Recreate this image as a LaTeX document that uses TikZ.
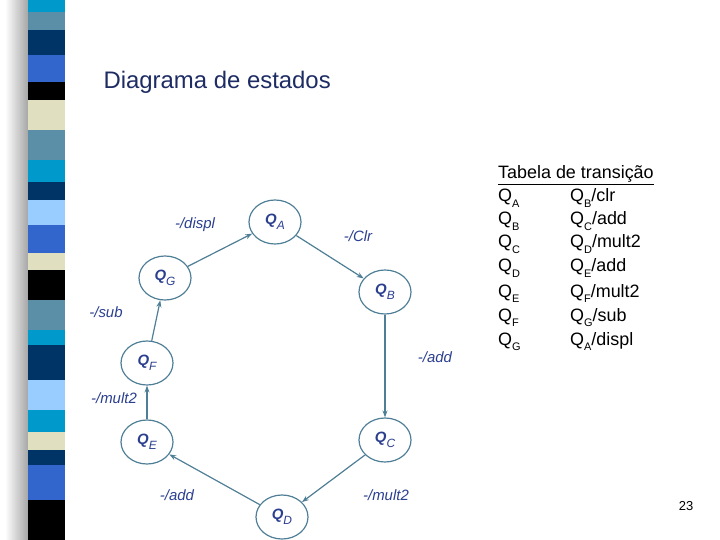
\documentclass[tikz,border=0pt]{standalone}
\usepackage{fontspec}
\setmainfont{Liberation Sans}
\usetikzlibrary{arrows.meta,shapes.geometric}
\definecolor{tx}{HTML}{2B3F8F}
\definecolor{ed}{HTML}{4F7F96}
\newcommand{\subsc}[1]{\raisebox{-0.3em}{\fontsize{11}{11}\selectfont #1}}
\newcommand{\subsm}[1]{\raisebox{-0.3em}{\fontsize{12}{12}\selectfont\mdseries #1}}
\tikzset{
 st/.style={ellipse,draw=ed,line width=1.2pt,minimum width=52bp,minimum height=44bp,inner sep=0pt,text=tx,font=\fontsize{15}{15}\selectfont\bfseries\itshape},
 tr/.style={draw=ed,line width=1.2pt,-{Stealth[length=7bp,width=5bp]}},
 lb/.style={text=tx,font=\fontsize{15}{15}\selectfont\itshape,anchor=center},
 tb/.style={anchor=base west,font=\fontsize{18}{18}\selectfont,inner sep=0pt}
}
\begin{document}
\begin{tikzpicture}[x=1bp,y=-1bp]
\useasboundingbox (0,0) rectangle (720,540);
\fill[white] (0,0) rectangle (720,540);
\shade[left color=white,right color=gray!70] (5,0) rectangle (28,540);
\foreach \a/\b/\c in {0/12/0099CC,12/30/5B8FA8,30/55/003366,55/82/3366CC,82/100/000000,100/130/E0E0C0,130/160/5B8FA8,160/182/0099CC,182/200/003366,200/225/99CCFF,225/253/3366CC,253/270/E0E0C0,270/300/000000,300/330/5B8FA8,330/345/0099CC,345/380/003366,380/410/99CCFF,410/432/0099CC,432/450/E0E0C0,450/465/003366,465/500/3366CC,500/540/000000}{
 \definecolor{cc}{HTML}{\c}\fill[cc] (28,\a) rectangle (65,\b);}
\node[anchor=west,text=tx!70!black,font=\fontsize{24}{24}\selectfont] (title) at (100,82) {Diagrama de estados};
\node[st] (A) at (275,222) {Q\subsm{A}};
\node[st] (B) at (385,292) {Q\subsm{B}};
\node[st] (C) at (385,440) {Q\subsm{C}};
\node[st] (D) at (282,517) {Q\subsm{D}};
\node[st] (E) at (147,442) {Q\subsm{E}};
\node[st] (F) at (147,363) {Q\subsm{F}};
\node[st] (G) at (165,278) {Q\subsm{G}};
\draw[tr] (A) -- (B);
\draw[tr] (B) -- (C);
\draw[tr] (C) -- (D);
\draw[tr] (D) -- (E);
\draw[tr] (E) -- (F);
\draw[tr] (F) -- (G);
\draw[tr] (G) -- (A);
\node[lb] (l1) at (195,225) {-/displ};
\node[lb] (l2) at (358,236) {-/Clr};
\node[lb] (l3) at (435,357) {-/add};
\node[lb] (l4) at (386,495) {-/mult2};
\node[lb] (l5) at (177,495) {-/add};
\node[lb] (l6) at (114,398) {-/mult2};
\node[lb] (l7) at (106,312) {-/sub};
\node[tb] (th) at (498,179) {\underline{Tabela de transição}};
\foreach \y/\p/\q/\r in {202/A/B/clr,225/B/C/add,248/C/D/mult2,272/D/E/add,297/E/F/mult2,321/F/G/sub,345/G/A/displ}{
 \node[tb] at (498,\y) {Q\subsc{\p}};
 \node[tb] at (570,\y) {Q\subsc{\q}/\r};}
\node[font=\fontsize{13}{13}\selectfont] (pg) at (686,506) {23};
\end{tikzpicture}
\end{document}
